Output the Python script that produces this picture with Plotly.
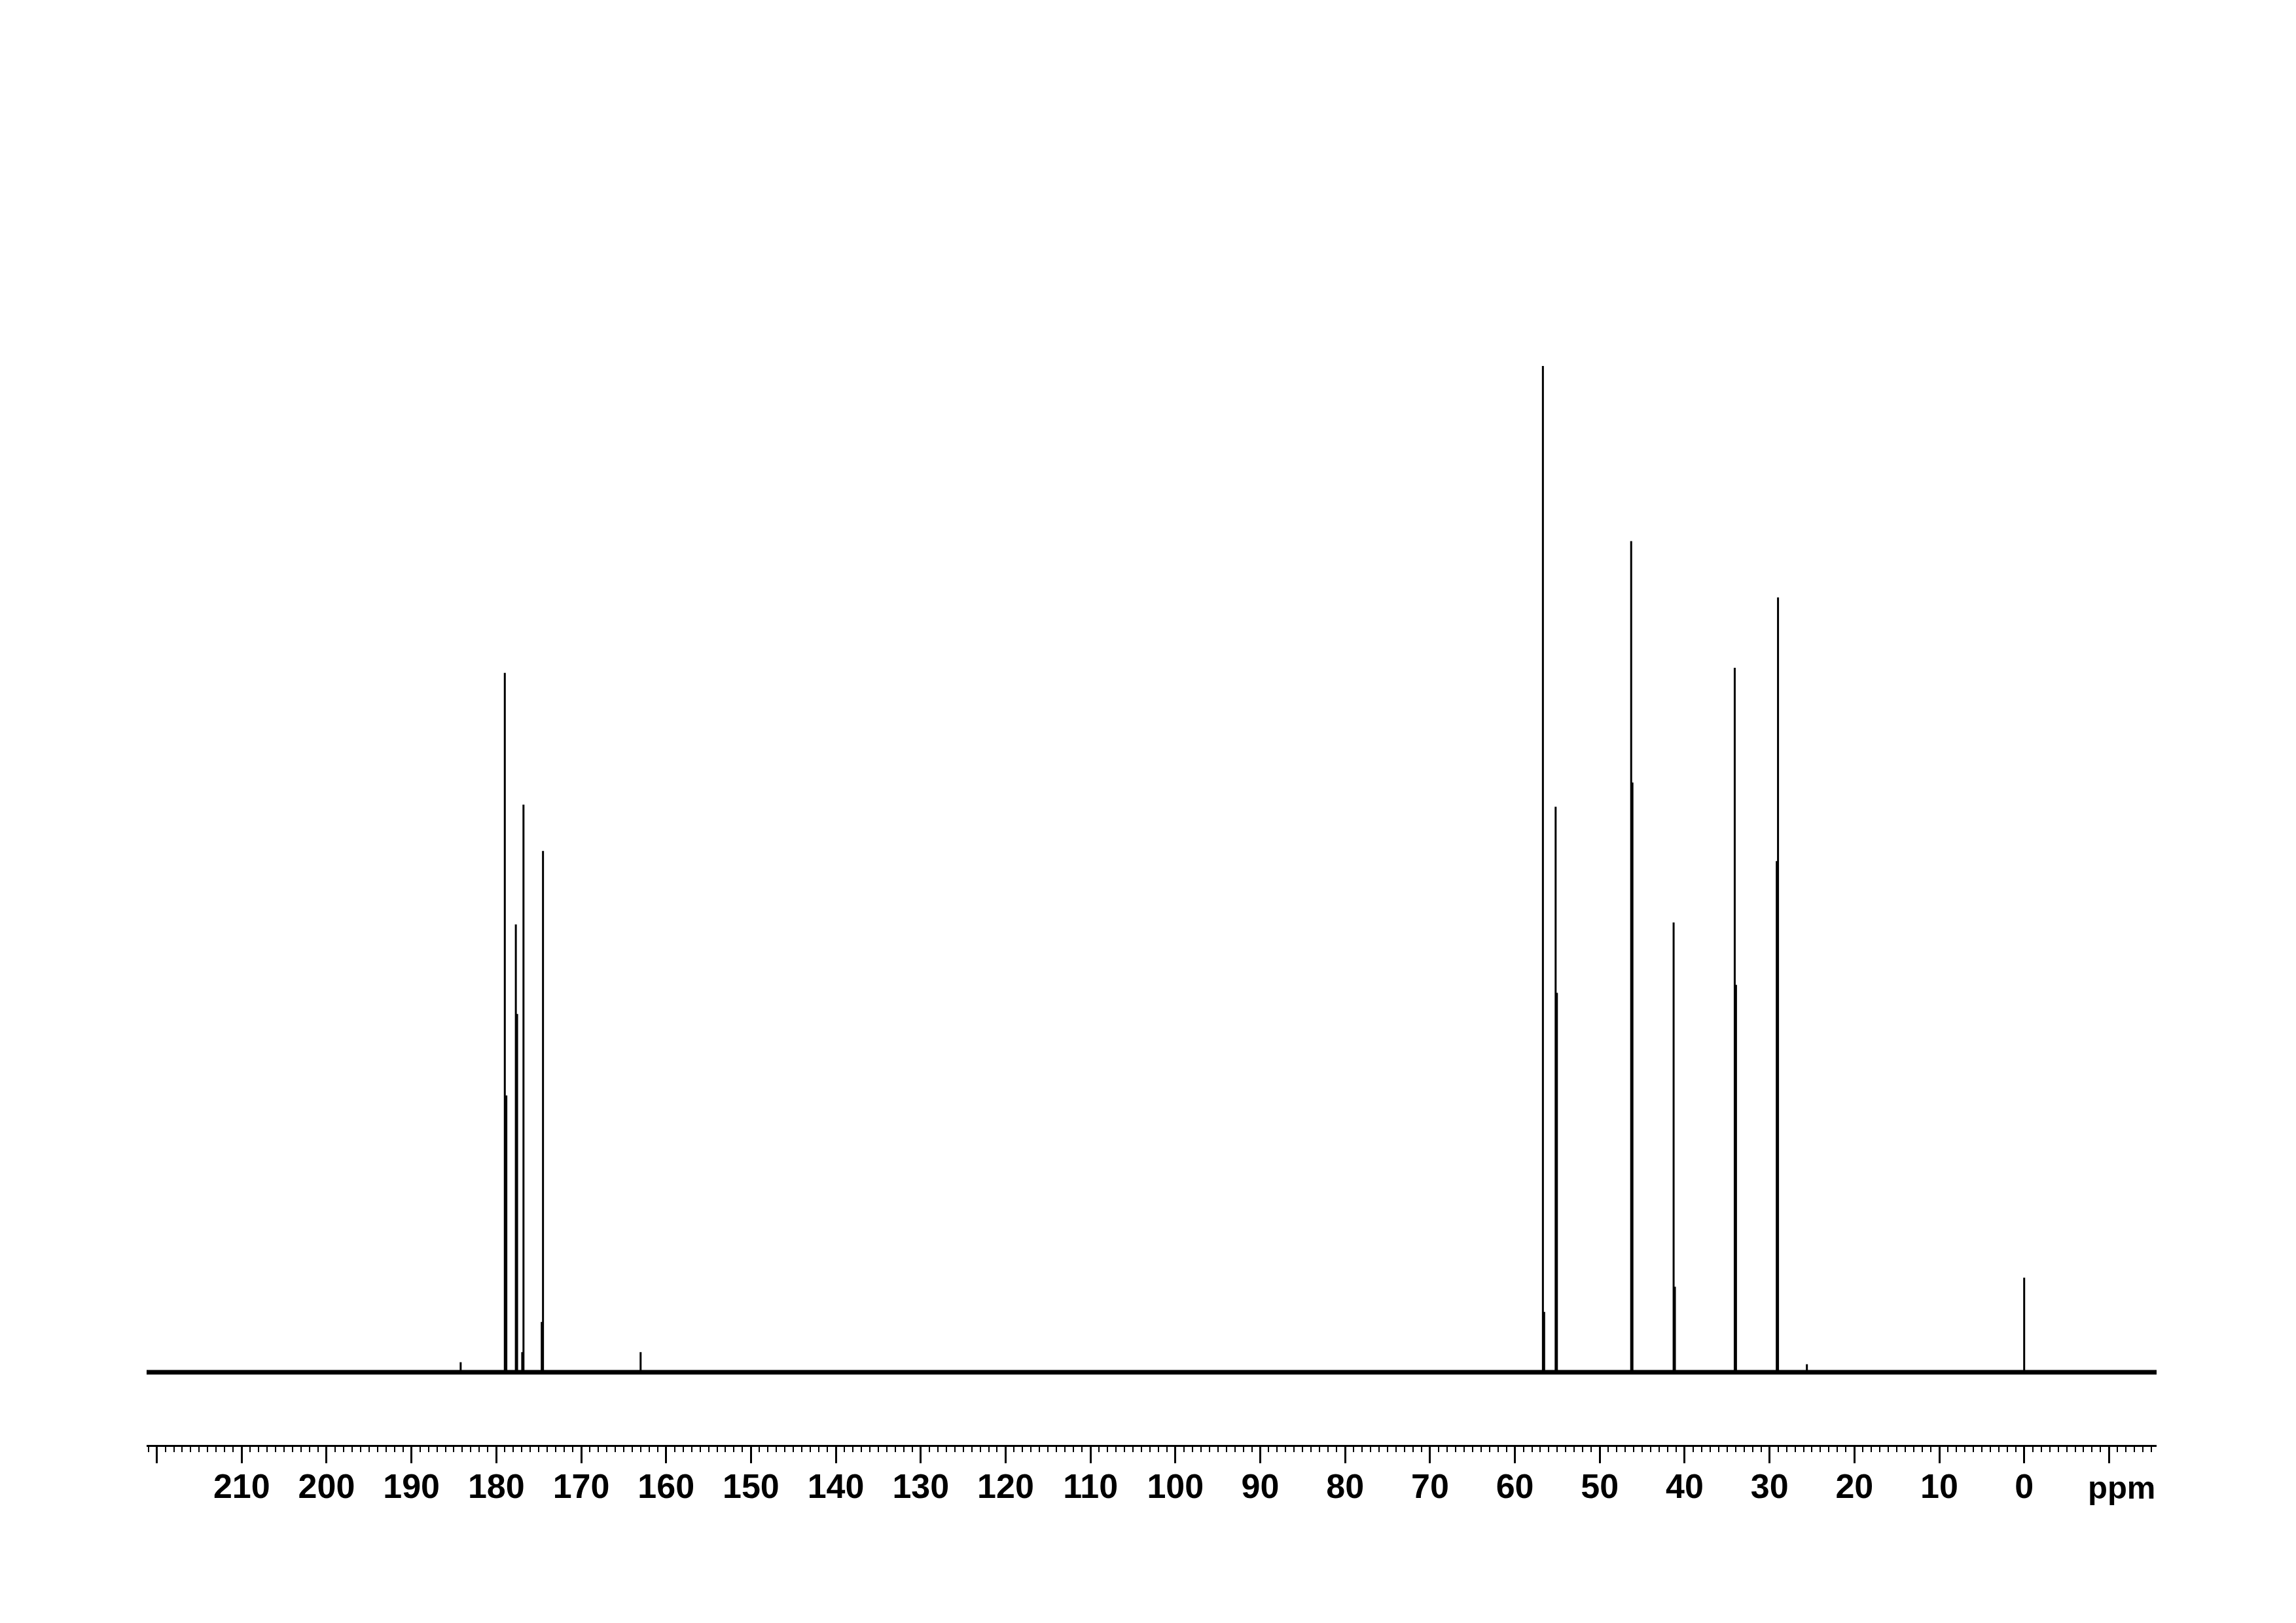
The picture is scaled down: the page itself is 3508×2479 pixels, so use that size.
import plotly.graph_objects as go

# ---- data (13C NMR spectrum, chemical shift in ppm) ----
peak_ppm = [184.2, 179.0, 177.7, 176.8, 174.5, 163.0, 56.7, 55.2, 46.3, 41.3, 34.1, 29.0, 25.6, 0.0]
peak_height = [0.010, 0.695, 0.445, 0.564, 0.518, 0.020, 1.000, 0.562, 0.826, 0.447, 0.700, 0.770, 0.008, 0.094]

shoulder_ppm = [178.82, 177.55, 176.95, 174.65, 56.55, 55.05, 46.15, 41.15, 33.95, 29.15]
shoulder_height = [0.275, 0.356, 0.020, 0.050, 0.060, 0.377, 0.586, 0.085, 0.385, 0.508]

x_range = [221.2, -15.6]
y_range = [-0.0722, 1.2986]

tick_values = [220, 210, 200, 190, 180, 170, 160, 150, 140, 130, 120, 110, 100,
               90, 80, 70, 60, 50, 40, 30, 20, 10, 0, -10]
tick_labels = ["", "210", "200", "190", "180", "170", "160", "150", "140", "130", "120",
               "110", "100", "90", "80", "70", "60", "50", "40", "30", "20", "10", "0", ""]
unit_label = "ppm"

# ---- build stick segments from the data ----
def sticks(ppms, heights):
    xs, ys = [], []
    for p, h in zip(ppms, heights):
        xs += [p, p, None]
        ys += [0, h, None]
    return xs, ys

px, py = sticks(peak_ppm, peak_height)
sx, sy = sticks(shoulder_ppm, shoulder_height)

fig = go.Figure()
# noisy baseline band
fig.add_trace(go.Scatter(x=x_range, y=[0, 0], mode="lines",
                         line=dict(color="black", width=7), hoverinfo="skip"))
fig.add_trace(go.Scatter(x=sx, y=sy, mode="lines",
                         line=dict(color="black", width=3), hoverinfo="skip"))
fig.add_trace(go.Scatter(x=px, y=py, mode="lines",
                         line=dict(color="black", width=3), hoverinfo="skip"))

font_family = "Liberation Sans, Arial, Helvetica, sans-serif"

fig.update_layout(
    width=3508, height=2479,
    paper_bgcolor="white", plot_bgcolor="white",
    showlegend=False,
    margin=dict(l=216, r=221, t=92, b=280),
    xaxis=dict(
        range=x_range, autorange=False,
        showgrid=False, zeroline=False,
        showline=True, linecolor="black", linewidth=3,
        ticks="outside", ticklen=25, tickwidth=3, tickcolor="black",
        tickmode="array", tickvals=tick_values, ticktext=tick_labels,
        ticklabelstandoff=-9,
        tickfont=dict(family=font_family, size=52, color="black", weight="bold"),
        minor=dict(ticks="outside", ticklen=8, tickwidth=2, tickcolor="black",
                   dtick=1, tick0=0, showgrid=False),
    ),
    yaxis=dict(range=y_range, autorange=False, visible=False, showgrid=False,
               zeroline=False),
    annotations=[dict(text="<b>" + unit_label + "</b>", xref="paper", yref="paper",
                      x=1.0, y=0, xanchor="right", yanchor="top", yshift=-36,
                      showarrow=False,
                      font=dict(family=font_family, size=49, color="black"))],
)

fig.write_html("out.html")
